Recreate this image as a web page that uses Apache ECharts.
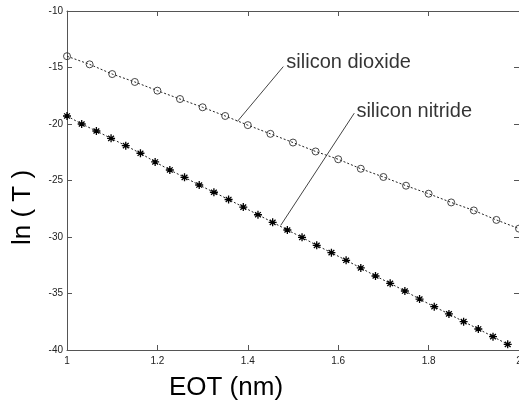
<!DOCTYPE html>
<html><head><meta charset="utf-8">
<script src="https://cdn.jsdelivr.net/npm/echarts@6/dist/echarts.min.js"></script>
<style>html,body{margin:0;padding:0;background:#fff}#c{width:519px;height:406px}</style>
</head><body><div id="c"></div>
<script>
// ---- data ----
const dioxideEOT = [1.00,1.05,1.10,1.15,1.20,1.25,1.30,1.35,1.40,1.45,1.50,1.55,1.60,1.65,1.70,1.75,1.80,1.85,1.90,1.95,2.00];
const dioxideLnT = [-14.0,-14.72,-15.58,-16.28,-17.05,-17.79,-18.52,-19.29,-20.1,-20.87,-21.64,-22.43,-23.12,-23.96,-24.69,-25.46,-26.17,-26.94,-27.65,-28.49,-29.26];
const nitrideEOT = [1.0,1.0325,1.065,1.0975,1.13,1.1625,1.195,1.2275,1.26,1.2925,1.325,1.3575,1.39,1.4225,1.455,1.4875,1.52,1.5525,1.585,1.6175,1.65,1.6825,1.715,1.7475,1.78,1.8125,1.845,1.8775,1.91,1.9425,1.975];
const nitrideLnT = [-19.29,-20.0,-20.62,-21.27,-21.92,-22.59,-23.36,-24.07,-24.72,-25.4,-26.04,-26.68,-27.35,-28.03,-28.7,-29.38,-30.03,-30.74,-31.39,-32.06,-32.74,-33.45,-34.1,-34.78,-35.49,-36.17,-36.81,-37.49,-38.14,-38.82,-39.5];
const xMin = 1, xMax = 2, xStep = 0.2;
const yMin = -40, yMax = -10, yStep = 5;
const annotationNames = ['silicon dioxide','silicon nitride'];
const annotationTextX = [1.482, 1.637];
const annotationTextY = [-14.55, -18.92];
const leaderX = [[1.3768, 1.4785],[1.4728, 1.6356]];
const leaderY = [[-19.78, -14.92],[-28.97, -19.04]];
const xTitle = 'EOT (nm)';
const yTitle = 'ln ( T )';

// ---- chart ----
const FONT = '"Liberation Sans", Arial, Helvetica, sans-serif';
const AXC = '#555';
const zip = (a, b) => a.map((v, i) => [v, b[i]]);
function axisCommon(showLabel, extra) {
  return Object.assign({
    type: 'value',
    axisLine: { show: true, onZero: false, lineStyle: { color: AXC, width: 1 } },
    axisTick: { show: true, inside: true, length: 5, lineStyle: { color: AXC } },
    splitLine: { show: false },
    axisLabel: { show: showLabel, color: '#222', fontSize: 10, fontFamily: FONT, showMinLabel: true, showMaxLabel: true }
  }, extra);
}
const chart = echarts.init(document.getElementById('c'), null, { renderer: 'canvas' });
const series = [
  {
    type: 'line', data: zip(dioxideEOT, dioxideLnT), xAxisIndex: 0, yAxisIndex: 0,
    symbol: 'circle', symbolSize: 7, showSymbol: true,
    lineStyle: { color: '#222', width: 1, type: [2, 2] },
    itemStyle: { color: 'rgba(0,0,0,0)', borderColor: '#333', borderWidth: 0.9 },
    z: 3
  },
  {
    type: 'line', data: zip(nitrideEOT, nitrideLnT), xAxisIndex: 0, yAxisIndex: 0,
    symbol: 'path://M0,-10L0,10M-9,0L9,0M-6.5,-6.5L6.5,6.5M-6.5,6.5L6.5,-6.5', symbolSize: 8, showSymbol: true,
    lineStyle: { color: '#222', width: 1, type: [2, 2] },
    itemStyle: { color: 'none', borderColor: '#000', borderWidth: 1.3 },
    z: 3
  }
];
leaderX.forEach((xs, i) => {
  series.push({
    type: 'line', data: zip(xs, leaderY[i]), symbol: 'none', silent: true,
    lineStyle: { color: '#444', width: 1, type: 'solid' }, z: 2
  });
});
series.push({
  type: 'scatter', symbolSize: 1, silent: true,
  itemStyle: { color: 'rgba(0,0,0,0)' },
  data: annotationNames.map((n, i) => ({ name: n, value: [annotationTextX[i], annotationTextY[i]] })),
  label: { show: true, position: 'right', distance: 1, formatter: p => p.name, color: '#000', fontSize: 20, fontFamily: FONT },
  z: 4
});
chart.setOption({
  animation: false,
  backgroundColor: '#fff',
  grid: { left: 67, width: 452, top: 11, bottom: 56, containLabel: false, outerBoundsMode: 'none' },
  xAxis: [
    axisCommon(true, { min: xMin, max: xMax, interval: xStep, position: 'bottom', axisLabel: { show: true, color: '#222', fontSize: 10, fontFamily: FONT, margin: 6, showMinLabel: true, showMaxLabel: true } }),
    axisCommon(false, { min: xMin, max: xMax, interval: xStep, position: 'top' })
  ],
  yAxis: [
    axisCommon(true, { min: yMin, max: yMax, interval: yStep, position: 'left', axisLabel: { show: true, color: '#222', fontSize: 10, fontFamily: FONT, margin: 4, showMinLabel: true, showMaxLabel: true } }),
    axisCommon(false, { min: yMin, max: yMax, interval: yStep, position: 'right' })
  ],
  graphic: [
    { type: 'text', x: 226, y: 388, style: { text: xTitle, font: '26px ' + FONT, fill: '#000', align: 'center', verticalAlign: 'middle' } },
    { type: 'text', x: 23, y: 207.5, rotation: Math.PI / 2, style: { text: yTitle, font: '26px ' + FONT, fill: '#000', align: 'center', verticalAlign: 'middle' } }
  ],
  series: series
});
</script>
</body></html>
